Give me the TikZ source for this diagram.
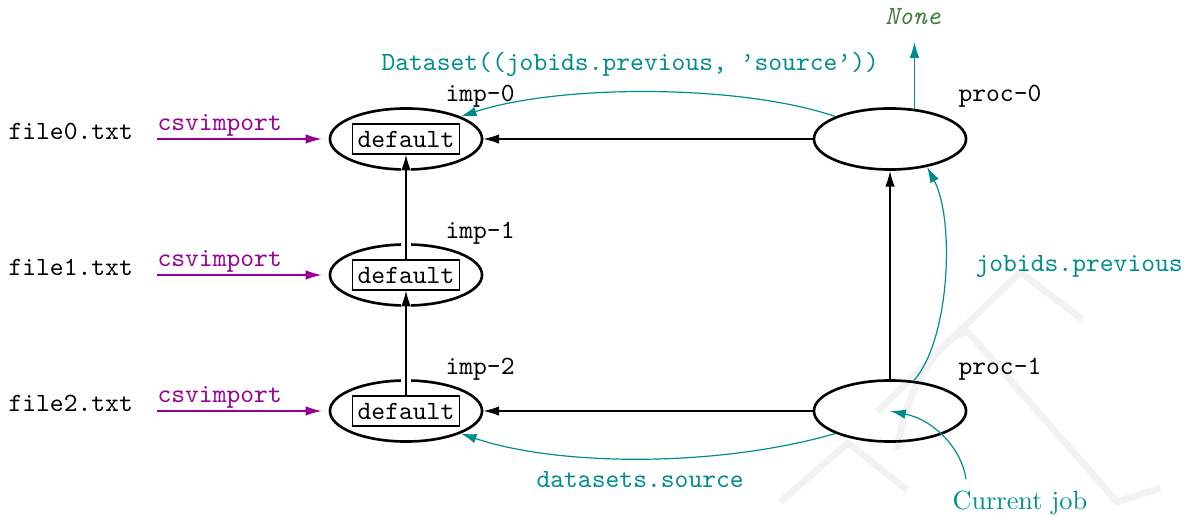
\documentclass[tikz,border=0pt]{standalone}
\usetikzlibrary{arrows.meta,shapes.geometric}
\definecolor{flowteal}{RGB}{0,140,140}
\definecolor{importpurple}{RGB}{150,0,150}
\definecolor{nonegreen}{RGB}{64,128,64}
\definecolor{markgray}{RGB}{242,242,242}

\begin{document}
\begin{tikzpicture}[x=0.38pt,y=-0.38pt,
  job/.style={ellipse, draw, line width=1pt, minimum width=57.8pt, minimum height=23.2pt, inner sep=0pt},
  dsbox/.style={draw, line width=0.4pt, font=\ttfamily, inner xsep=2pt, inner ysep=0pt,
                minimum height=11.4pt, text height=6.2pt, text depth=0pt},
  lbl/.style={font=\ttfamily, inner sep=0pt, anchor=base west},
  headtip/.style={-{Latex[length=6pt,width=3.6pt]}},
  dep/.style={headtip, line width=0.5pt},
  ref/.style={headtip, flowteal, line width=0.45pt},
  imparrow/.style={headtip, importpurple, line width=0.45pt, shorten >=2.7pt},
  halo/.style={preaction={draw=white, line width=4pt, -, shorten <=1pt, shorten >=1pt}},
  wmark/.style={markgray, line width=2.6pt, line join=round},
]
\useasboundingbox (0,0) rectangle (1184,515);

% faint background mark
\draw[wmark] (780,502) -- (848,443) -- (907,490);
\draw[wmark] (877,412) -- (1020,272) -- (1083,320);
\draw[wmark] (897,450) .. controls (905,390) and (940,335) .. (968,332) -- (1117,502) -- (1160,488);

% jobs
\node[job] (imp0) at (406,139) {};
\node[job] (imp1) at (406,275) {};
\node[job] (imp2) at (406,411) {};
\node[job] (proc0) at (890,139) {};
\node[job] (proc1) at (890,411) {};

\node[dsbox] (box0) at (406,139) {default};
\node[dsbox] (box1) at (406,275) {default};
\node[dsbox] (box2) at (406,411) {default};

\node[lbl] (imp0lbl) at (445,102) {imp-0};
\node[lbl] (imp1lbl) at (445,238) {imp-1};
\node[lbl] (imp2lbl) at (445,374) {imp-2};
\node[lbl] (proc0lbl) at (958,102) {proc-0};
\node[lbl] (proc1lbl) at (958,374) {proc-1};

% input files
\node[lbl] (file0) at (8,139) {file0.txt};
\node[lbl] (file1) at (8,275) {file1.txt};
\node[lbl] (file2) at (8,411) {file2.txt};
\coordinate (in0) at (157,139);
\coordinate (in1) at (157,275);
\coordinate (in2) at (157,411);
\draw[imparrow] (in0) -- (imp0.west);
\draw[imparrow] (in1) -- (imp1.west);
\draw[imparrow] (in2) -- (imp2.west);
\node[lbl, text=importpurple] (csv0) at (157,130.5) {csvimport};
\node[lbl, text=importpurple] (csv1) at (157,266.5) {csvimport};
\node[lbl, text=importpurple] (csv2) at (157,402.5) {csvimport};

% dependencies
\draw[dep, halo] (box2.north) -- (box1.south);
\draw[dep, halo] (box1.north) -- (box0.south);
\draw[dep] (proc0.west) -- (imp0.east);
\draw[dep] (proc1.west) -- (imp2.east);
\draw[dep] (proc1.north) -- (proc0.south);

% references
\draw[ref] (proc0.north west) .. controls (740,84) and (560,84) .. (imp0.north east);
\node[lbl, text=flowteal] (dslbl) at (381,71) {Dataset((jobids.previous, \textquoteright source\textquoteright))};

\node[font=\ttfamily\itshape, text=nonegreen, inner sep=0pt, anchor=base] (none) at (913,25) {None};
\coordinate (nonetip) at (913,42);
\draw[ref] (proc0.51) -- (proc0.51 |- nonetip);

\draw[ref] (proc1.52) .. controls (950,340) and (955,220) .. (proc0.-37);
\node[lbl, text=flowteal] (jplbl) at (975,271) {jobids.previous};

\draw[ref] (proc1.south west) .. controls (720,467) and (560,467) .. (imp2.south east);
\node[lbl, text=flowteal] (dsrclbl) at (536,487) {datasets.source};

\node[font=\rmfamily, text=flowteal, inner sep=0pt, anchor=base west] (cj) at (952,509) {Current job};
\coordinate (cjstart) at (966,479);
\draw[ref] (cjstart) .. controls (962,450) and (935,420) .. (proc1.center);
\end{tikzpicture}
\end{document}
